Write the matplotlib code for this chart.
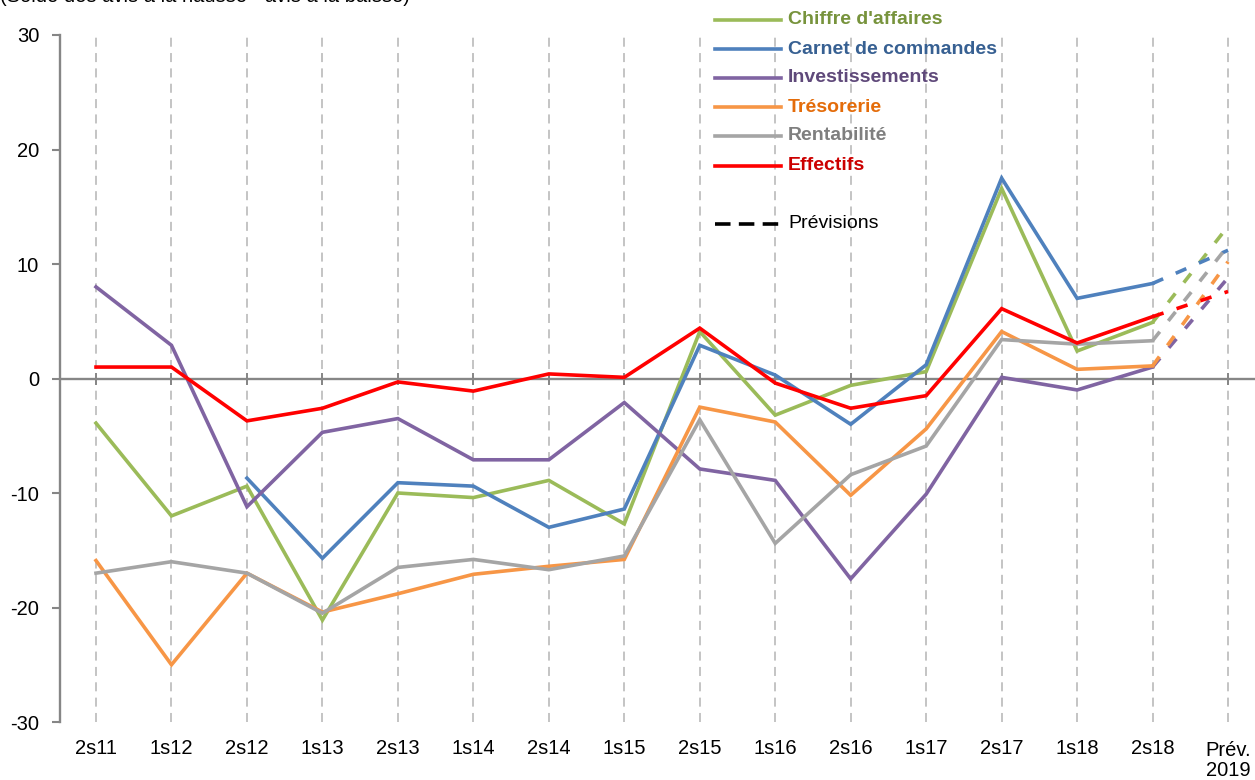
import matplotlib
matplotlib.use("Agg")
import matplotlib.pyplot as plt
import numpy as np
from matplotlib.lines import Line2D

plt.rcParams["font.family"] = ["Liberation Sans", "DejaVu Sans"]
plt.rcParams["axes.unicode_minus"] = False

# --- données (solde des avis à la hausse - avis à la baisse)
periodes = ["2s11", "1s12", "2s12", "1s13", "2s13", "1s14", "2s14", "1s15",
            "2s15", "1s16", "2s16", "1s17", "2s17", "1s18", "2s18", "Prév.\n2019"]

chiffre_affaires = [-3.9, -12.0, -9.4, -21.1, -10.0, -10.4, -8.9, -12.7,
                    4.1, -3.2, -0.6, 0.6, 16.6, 2.4, 4.9]
carnet_commandes = [np.nan, np.nan, -8.7, -15.7, -9.1, -9.4, -13.0, -11.4,
                    2.9, 0.3, -4.0, 1.2, 17.5, 7.0, 8.3]
investissements = [8.0, 2.9, -11.2, -4.7, -3.5, -7.1, -7.1, -2.1,
                   -7.9, -8.9, -17.5, -10.1, 0.1, -1.0, 1.0]
tresorerie = [-15.9, -25.0, -17.0, -20.4, -18.8, -17.1, -16.4, -15.8,
              -2.5, -3.8, -10.2, -4.4, 4.1, 0.8, 1.1]
rentabilite = [-17.0, -16.0, -17.0, -20.5, -16.5, -15.8, -16.7, -15.5,
               -3.6, -14.4, -8.4, -5.9, 3.4, 3.0, 3.3]
effectifs = [1.0, 1.0, -3.7, -2.6, -0.3, -1.1, 0.4, 0.1,
             4.4, -0.4, -2.6, -1.5, 6.1, 3.1, 5.4]

# prévisions 2019
prev_2019 = [13.3, 11.2, 8.8, 10.2, 11.6, 7.6]

noms = ["Chiffre d'affaires", "Carnet de commandes", "Investissements",
        "Trésorerie", "Rentabilité", "Effectifs"]
series = [chiffre_affaires, carnet_commandes, investissements,
          tresorerie, rentabilite, effectifs]
couleurs = ["#9BBB59", "#4F81BD", "#8064A2", "#F79646", "#A5A5A5", "#FF0000"]
couleurs_texte = ["#77933C", "#376092", "#5F497A", "#E46C0A", "#7F7F7F", "#CC0000"]

W, H = 1255, 780
fig = plt.figure(figsize=(W / 100, H / 100), dpi=100)
ax = fig.add_axes([60 / W, 1 - 722 / H, 1 - 60 / W, (722 - 35) / H])

x = np.arange(len(periodes))
for i in x:
    ax.axvline(i, color="#BFBFBF", lw=1.3, dashes=(5, 3.5), zorder=1)
ax.axhline(0, color="#868686", lw=1.7, zorder=2)

lw = 2.6
for vals, prev, c in zip(series, prev_2019, couleurs):
    vals = np.array(vals, dtype=float)
    ax.plot(x[:len(vals)], vals, color=c, lw=lw, zorder=3,
            solid_joinstyle="miter")
    ax.plot([x[len(vals) - 1], x[len(vals)]], [vals[-1], prev], color=c, lw=lw,
            dashes=(3.2, 3.8), zorder=3)

ax.set_xlim((60 - 96) / 75.47, (W - 96) / 75.47)
ax.set_ylim(-30, 30)
ax.set_yticks(range(-30, 31, 10))
ax.set_xticks([])
for s in ["top", "right", "bottom"]:
    ax.spines[s].set_visible(False)
ax.spines["left"].set_color("#868686")
ax.spines["left"].set_linewidth(1.7)
ax.tick_params(axis="y", length=6, width=1.5, color="#868686", pad=9,
               labelsize=14.5)

# petites graduations sur l'axe des abscisses (ligne zéro)
ax.plot(x, np.zeros(len(x)), ls="none", marker="|", ms=9, mew=1.4,
        color="#868686", zorder=2)

for i, lab in enumerate(periodes):
    multi = "\n" in lab
    ax.text(i, -0.056 if multi else -0.038, lab,
            transform=ax.get_xaxis_transform(), ha="center", va="center",
            fontsize=14.5, multialignment="right", linespacing=1.05)

# légende dessinée à la main
rows = [20, 49, 78, 107, 136, 166]
for nom, c, ct, py in zip(noms, couleurs, couleurs_texte, rows):
    fig.add_artist(Line2D([715 / W, 781 / W], [1 - py / H, 1 - py / H],
                          color=c, lw=2.6))
    fig.text(788 / W, 1 - py / H, nom, color=ct, fontsize=14, weight="bold",
             va="center", ha="left")
fig.add_artist(Line2D([715 / W, 781 / W], [1 - 224 / H, 1 - 224 / H],
                      color="black", lw=2.6, dashes=(4.3, 2.3)))
fig.text(788 / W, 1 - 224 / H, "Prévisions", color="black", fontsize=14,
         va="center", ha="left")

# titre (coupé en haut dans l'original)
fig.text(0.0, 1 - 6 / H, "(Solde des avis à la hausse - avis à la baisse)",
         fontsize=14.5, va="bottom", ha="left")

fig.savefig("out.png", dpi=100)
